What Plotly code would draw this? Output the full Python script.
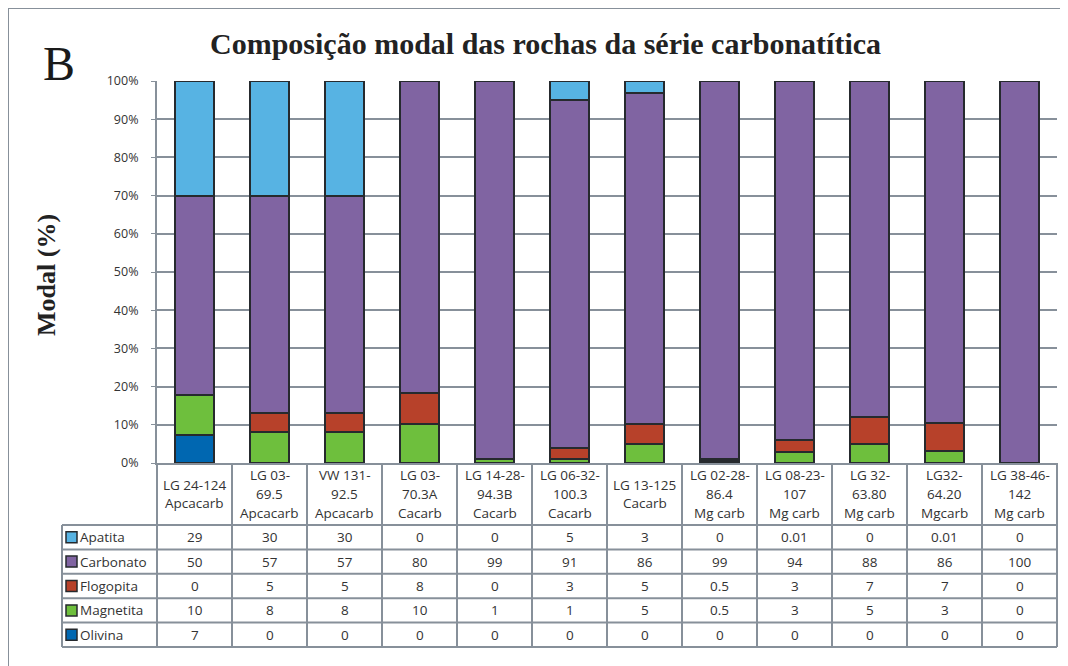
import plotly.graph_objects as go

# samples (header lines split with "\n")
samples = [
    "LG 24-124\nApcacarb",
    "LG 03-\n69.5\nApcacarb",
    "VW 131-\n92.5\nApcacarb",
    "LG 03-\n70.3A\nCacarb",
    "LG 14-28-\n94.3B\nCacarb",
    "LG 06-32-\n100.3\nCacarb",
    "LG 13-125\nCacarb",
    "LG 02-28-\n86.4\nMg carb",
    "LG 08-23-\n107\nMg carb",
    "LG 32-\n63.80\nMg carb",
    "LG32-\n64.20\nMgcarb",
    "LG 38-46-\n142\nMg carb",
]

apatita   = [29, 30, 30, 0, 0, 5, 3, 0, 0.01, 0, 0.01, 0]
carbonato = [50, 57, 57, 80, 99, 91, 86, 99, 94, 88, 86, 100]
flogopita = [0, 5, 5, 8, 0, 3, 5, 0.5, 3, 7, 7, 0]
magnetita = [10, 8, 8, 10, 1, 1, 5, 0.5, 3, 5, 3, 0]
olivina   = [7, 0, 0, 0, 0, 0, 0, 0, 0, 0, 0, 0]

minerals = ["Apatita", "Carbonato", "Flogopita", "Magnetita", "Olivina"]
values = [apatita, carbonato, flogopita, magnetita, olivina]
colors = ["#57B3E3", "#8064A2", "#B7412A", "#6EBF3D", "#0067B1"]

y_ticks = list(range(0, 101, 10))
y_labels = [f"{t}%" for t in y_ticks]

GRID = "#87909A"
EDGE = "#262A2E"
TXT = "#333333"
SANS = "Open Sans"
SERIF = "Liberation Serif"

# the page body has an 8px margin, so the figure starts at (8, 8) on screen
OFF = 8
W, H = 1068 - OFF, 666 - OFF
# screen pixel layout of the plot area
L, R, T, B = 157, 1057, 81, 463


def px(x):
    return (x - L) / (R - L)


def py(y):
    return (B - y) / (B - T)


def fmt(v):
    return str(int(v)) if float(v).is_integer() else str(v)


fig = go.Figure()
# bottom of stack first
for name, vals, col in reversed(list(zip(minerals, values, colors))):
    fig.add_trace(go.Bar(
        x=list(range(len(samples))),
        y=vals,
        name=name,
        marker=dict(color=col, line=dict(color=EDGE, width=2)),
        showlegend=False,
    ))

shapes = []
annotations = []

# table geometry
head_bot = 525
row_h = 24.4
n_rows = len(minerals)
tab_bot = head_bot + row_h * n_rows
leg_left = 62
n = len(samples)
cell_font = dict(family=SANS, size=13.5, color=TXT)

for k in range(n + 1):
    shapes.append(dict(type="line", xref="paper", yref="paper",
                       x0=k / n, x1=k / n, y0=py(B), y1=py(tab_bot),
                       line=dict(color=GRID, width=2)))
for r in range(n_rows + 1):
    yy = head_bot + r * row_h
    shapes.append(dict(type="line", xref="paper", yref="paper",
                       x0=px(leg_left), x1=1, y0=py(yy), y1=py(yy),
                       line=dict(color=GRID, width=2)))
shapes.append(dict(type="line", xref="paper", yref="paper",
                   x0=px(leg_left), x1=px(leg_left), y0=py(head_bot), y1=py(tab_bot),
                   line=dict(color=GRID, width=2)))

# header labels
head_mid = (B + head_bot) / 2
line_gap = 18.7
for i, s in enumerate(samples):
    lines = s.split("\n")
    for j, ln in enumerate(lines):
        yy = head_mid + (j - (len(lines) - 1) / 2) * line_gap
        annotations.append(dict(x=i, y=py(yy), xref="x", yref="paper", text=ln,
                                xanchor="center", yanchor="middle",
                                showarrow=False, font=cell_font))

# rows
for r, (name, vals, col) in enumerate(zip(minerals, values, colors)):
    yc = head_bot + (r + 0.5) * row_h
    shapes.append(dict(type="rect", xref="paper", yref="paper",
                       x0=px(66), x1=px(77), y0=py(yc - 5.5), y1=py(yc + 5.5),
                       fillcolor=col, line=dict(color=EDGE, width=1.5)))
    annotations.append(dict(x=px(78), y=py(yc), xref="paper", yref="paper", text=name,
                            xanchor="left", yanchor="middle", showarrow=False,
                            font=cell_font))
    for i, v in enumerate(vals):
        annotations.append(dict(x=i, y=py(yc), xref="x", yref="paper", text=fmt(v),
                                xanchor="center", yanchor="middle",
                                showarrow=False, font=cell_font))

# outer frame
shapes.append(dict(type="rect", xref="paper", yref="paper",
                   x0=px(8), x1=px(1080), y0=py(8), y1=py(680),
                   line=dict(color=GRID, width=2), layer="below"))

# titles
annotations.append(dict(x=px(545), y=py(43), xref="paper", yref="paper",
                        xanchor="center", yanchor="middle",
                        text="<b>Composição modal das rochas da série carbonatítica</b>",
                        showarrow=False, font=dict(family=SERIF, size=30, color="#222222")))
annotations.append(dict(x=px(59), y=py(63), xref="paper", yref="paper", text="B",
                        xanchor="center", yanchor="middle",
                        showarrow=False, font=dict(family=SERIF, size=48, color="#1a1a1a")))
annotations.append(dict(x=px(46), y=py(275), xref="paper", yref="paper",
                        xanchor="center", yanchor="middle",
                        text="<b>Modal (%)</b>", textangle=-90,
                        showarrow=False, font=dict(family=SERIF, size=26, color="#222222")))

fig.update_layout(
    barmode="stack",
    barnorm="percent",
    bargap=0.49,
    width=W, height=H,
    margin=dict(l=L - OFF, r=W + OFF - R, t=T - OFF, b=H + OFF - B, pad=0),
    paper_bgcolor="#FFFFFF",
    plot_bgcolor="#FFFFFF",
    shapes=shapes,
    annotations=annotations,
    xaxis=dict(range=[-0.5, n - 0.5], showticklabels=False, showgrid=False,
               showline=True, linecolor=GRID, linewidth=2, zeroline=False),
    yaxis=dict(range=[0, 100], tickmode="array", tickvals=y_ticks, ticktext=y_labels,
               showgrid=True, gridcolor=GRID, gridwidth=2,
               showline=True, linecolor=GRID, linewidth=2, zeroline=False,
               ticks="outside", ticklen=4, tickcolor=GRID, ticklabelstandoff=10,
               tickfont=dict(family=SANS, size=12.5, color=TXT)),
)

fig.write_html("out.html")
